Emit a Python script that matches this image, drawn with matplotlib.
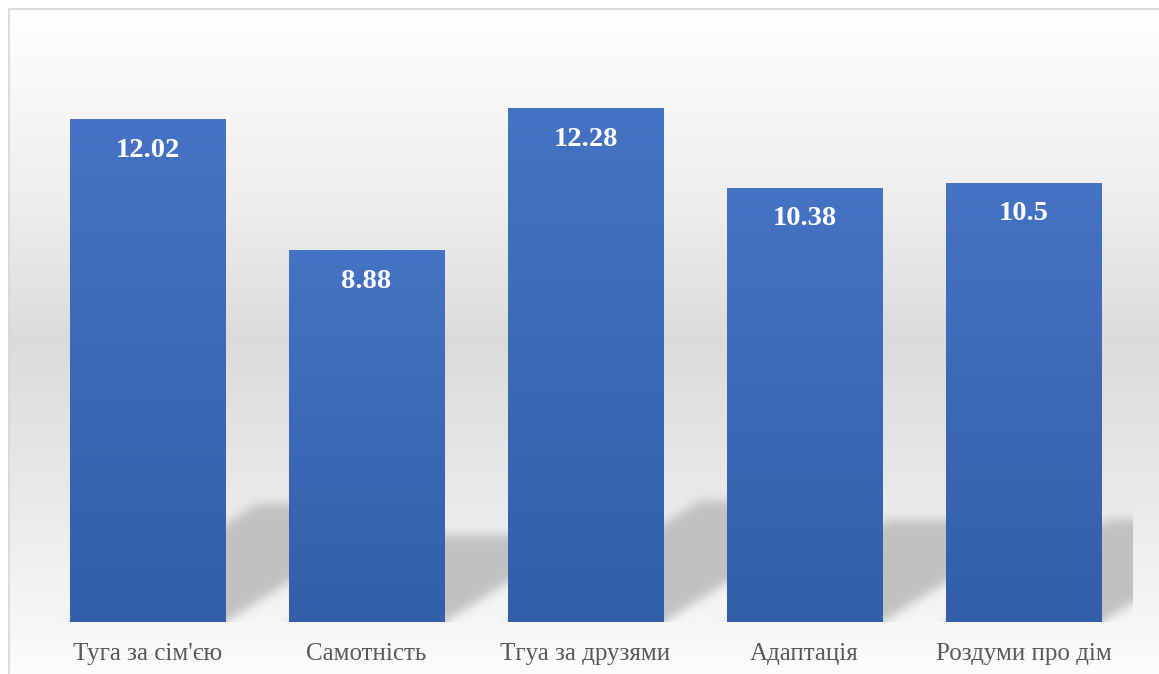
import numpy as np
import matplotlib
matplotlib.use('Agg')
import matplotlib.pyplot as plt
from matplotlib.patches import Rectangle
from matplotlib.colors import to_rgb

# ── Дані ──────────────────────────────────────────────────────────────
categories = ['Туга за сім\'єю', 'Самотність', 'Тгуа за друзями',
              'Адаптація', 'Роздуми про дім']
values = [12.02, 8.88, 12.28, 10.38, 10.5]
value_labels = ['12.02', '8.88', '12.28', '10.38', '10.5']

W, H, DPI = 1159, 674, 100
fig = plt.figure(figsize=(W / DPI, H / DPI), dpi=DPI)
fig.patch.set_facecolor('white')

# ── Фон (вертикальний градієнт) ───────────────────────────────────────
bg = fig.add_axes([8 / W, 0, 1 - 8 / W, 1 - 8 / H], zorder=-5)
bg.set_axis_off()
yy = np.linspace(0, 1, 400)
stops = [0.0, 0.30, 0.50, 0.73, 0.92, 1.0]
grey = [1.0, 0.93, 0.86, 0.915, 0.965, 0.99]
g = np.interp(yy, stops, grey)
bg.imshow(np.repeat(g[:, None, None], 3, axis=2), aspect='auto',
          extent=(0, 1, 0, 1), origin='upper')
bg.set_xlim(0, 1)
bg.set_ylim(0, 1)

# рамка
fig.patches.append(Rectangle((8.5 / W, -0.01), 1.2, 1 - 8.5 / H + 0.01,
                             transform=fig.transFigure, fill=False,
                             ec='#d9d9d9', lw=1.3, zorder=10))

# ── Основна вісь ──────────────────────────────────────────────────────
ax = fig.add_axes([38 / W, 52 / H, 1095 / W, 585 / H])
ax.set_facecolor('none')
ax.set_xlim(-0.5, len(values) - 0.5)
ax.set_ylim(0, 14)
for s in ax.spines.values():
    s.set_visible(False)
ax.tick_params(axis='both', length=0)
ax.set_yticks([])

bw = 0.712
xs = np.arange(len(values))

# ── Тіні (перспективні, розмиті) ──────────────────────────────────────
nx, ny = 1095, 585
gx = -0.5 + (np.arange(nx) + 0.5) / nx * len(values)
gy = (np.arange(ny) + 0.5) / ny * 14
X, Y = np.meshgrid(gx, gy)
mask = np.zeros((ny, nx))
shear = 0.3034
for x, v in zip(xs, values):
    sh = 0.235 * v
    inside = (Y <= sh) & (X >= x - bw / 2 + shear * Y) & (X <= x + bw / 2 + shear * Y)
    mask[inside] = 1.0

def blur(a, sigma):
    r = int(3 * sigma)
    k = np.exp(-0.5 * (np.arange(-r, r + 1) / sigma) ** 2)
    k /= k.sum()
    p = np.pad(a, ((r, r), (r, r)), mode='edge')
    out = np.zeros_like(p)
    for i, kk in enumerate(k):
        out += kk * np.roll(p, i - r, axis=0)
    p2 = np.zeros_like(out)
    for i, kk in enumerate(k):
        p2 += kk * np.roll(out, i - r, axis=1)
    return p2[r:-r, r:-r]

mask = blur(mask, 5)
shadow = np.zeros((ny, nx, 4))
shadow[..., :3] = 0.76
shadow[..., 3] = np.clip(mask, 0, 1)
ax.imshow(shadow, origin='lower', aspect='auto',
          extent=(-0.5, len(values) - 0.5, 0, 14), zorder=1)

# ── Стовпці з градієнтом ──────────────────────────────────────────────
top_c = np.array(to_rgb('#4573c5'))
bot_c = np.array(to_rgb('#335ea8'))
for x, v in zip(xs, values):
    t = np.linspace(0, 1, 200)[:, None]
    grad = bot_c[None, :] * (1 - t) + top_c[None, :] * t
    ax.imshow(grad[:, None, :], origin='lower', aspect='auto',
              extent=(x - bw / 2, x + bw / 2, 0, v), zorder=2)

ax.set_xlim(-0.5, len(values) - 0.5)
ax.set_ylim(0, 14)

# підписи значень
for x, v, lab in zip(xs, values, value_labels):
    ax.annotate(lab, (x, v), xytext=(0, -22), textcoords='offset points',
                ha='center', va='center', color='white', fontsize=20.5,
                fontweight='bold', family='Liberation Serif', zorder=5)

ax.set_xticks(xs)
ax.set_xticklabels(categories, fontsize=18, family='Liberation Serif',
                   color='#595959')
ax.tick_params(axis='x', pad=15)

fig.savefig('out.png', dpi=DPI, facecolor='white')
